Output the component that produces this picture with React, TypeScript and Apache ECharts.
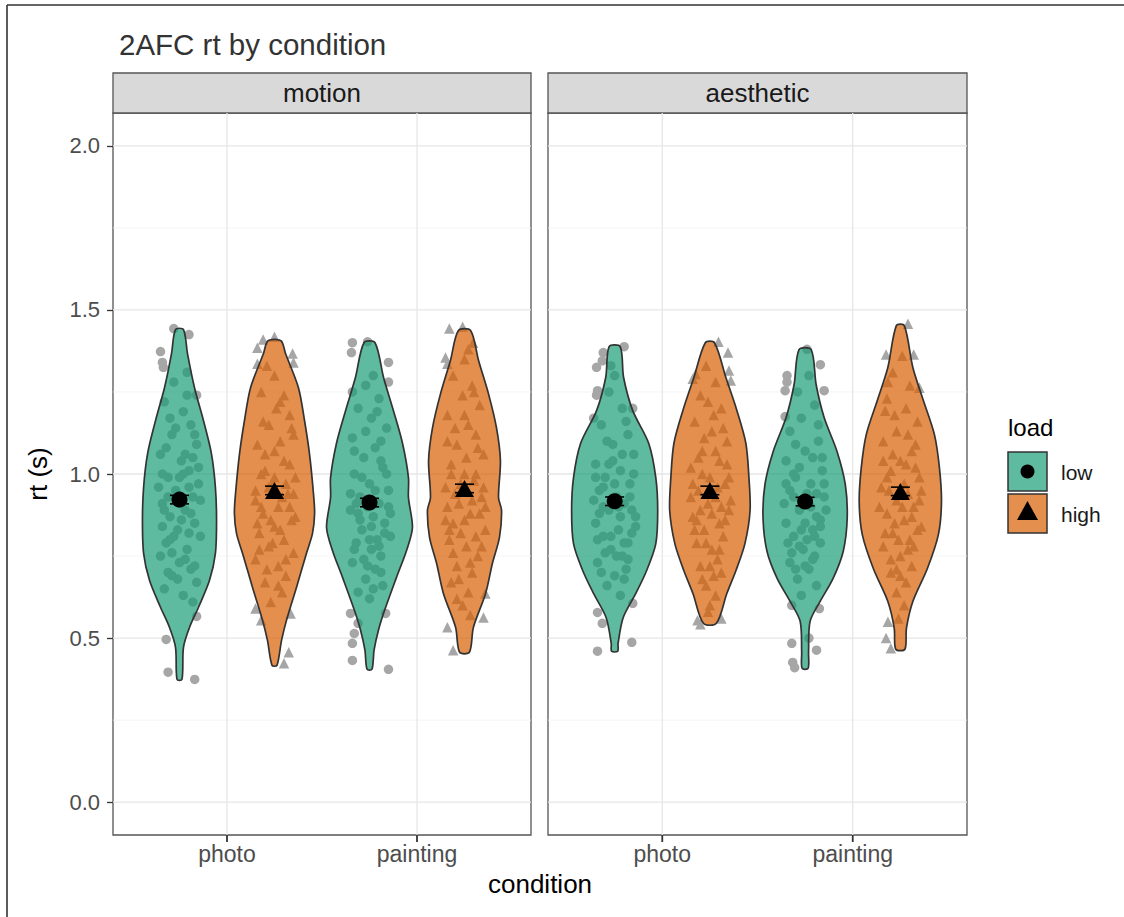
import React, { useEffect, useRef } from "react";
import * as echarts from "echarts";

const facets = ["motion", "aesthetic"];
const conditions = ["photo", "painting"];
const loads = ["low", "high"];
const yTicks = [0, 0.5, 1, 1.5, 2];
const yMinor = [0.25, 0.75, 1.25, 1.75];
const xTicks = [1, 2];

// violin outlines: [rt, half-width in x-axis units], top to bottom
const motionPhotoLowViolin = [
  [1.44, 0.021], [1.367, 0.042], [1.263, 0.079], [1.163, 0.126], [1.062, 0.168], [0.959, 0.189],
  [0.858, 0.195], [0.758, 0.189], [0.676, 0.158], [0.594, 0.1], [0.533, 0.053], [0.472, 0.021], [0.374, 0.013],
];
const motionPhotoHighViolin = [
  [1.406, 0.034], [1.367, 0.058], [1.263, 0.126], [1.163, 0.158], [1.062, 0.184], [0.941, 0.205],
  [0.88, 0.211], [0.819, 0.2], [0.758, 0.168], [0.655, 0.116], [0.554, 0.063], [0.493, 0.037], [0.417, 0.013],
];
const motionPaintingLowViolin = [
  [1.4, 0.029], [1.294, 0.074], [1.193, 0.126], [1.093, 0.174], [0.989, 0.205], [0.928, 0.205],
  [0.837, 0.226], [0.767, 0.195], [0.685, 0.142], [0.584, 0.079], [0.524, 0.047], [0.463, 0.024], [0.405, 0.013],
];
const motionPaintingHighViolin = [
  [1.437, 0.032], [1.346, 0.074], [1.245, 0.126], [1.142, 0.168], [1.041, 0.189], [0.928, 0.179],
  [0.889, 0.195], [0.807, 0.184], [0.728, 0.147], [0.636, 0.111], [0.533, 0.047], [0.457, 0.026],
];
const aestheticPhotoLowViolin = [
  [1.388, 0.029], [1.294, 0.047], [1.193, 0.095], [1.093, 0.179], [0.989, 0.216], [0.889, 0.226],
  [0.788, 0.216], [0.706, 0.168], [0.636, 0.111], [0.563, 0.045], [0.484, 0.018], [0.46, 0.016],
];
const aestheticPhotoHighViolin = [
  [1.4, 0.024], [1.294, 0.084], [1.193, 0.142], [1.093, 0.189], [0.989, 0.205], [0.889, 0.211],
  [0.788, 0.184], [0.706, 0.137], [0.636, 0.089], [0.545, 0.034],
];
const aestheticPaintingLowViolin = [
  [1.379, 0.032], [1.272, 0.058], [1.172, 0.1], [1.068, 0.168], [0.968, 0.211], [0.865, 0.221],
  [0.764, 0.2], [0.682, 0.147], [0.612, 0.079], [0.551, 0.026], [0.457, 0.018], [0.408, 0.016],
];
const aestheticPaintingHighViolin = [
  [1.452, 0.021], [1.324, 0.066], [1.224, 0.121], [1.12, 0.179], [1.02, 0.205], [0.916, 0.216],
  [0.816, 0.2], [0.712, 0.142], [0.612, 0.066], [0.53, 0.032], [0.466, 0.024],
];

// jittered raw trials: [x offset from violin centre, rt]
const motionPhotoLowPts = [
  [-0.03, 1.443], [0.05, 1.425], [-0.1, 1.373], [-0.09, 1.34], [-0.085, 1.325], [0.09, 1.24], [0.09, 0.566],
  [-0.07, 0.496], [-0.06, 0.396], [0.08, 0.374],
  [-0.08, 1.22], [0.02, 1.19], [0.06, 1.15], [-0.04, 1.12], [0.09, 1.09], [-0.1, 1.06], [0.01, 1.04],
  [0.05, 1.01], [-0.06, 0.99], [0.1, 0.97], [-0.02, 0.95], [0.07, 0.93], [-0.09, 0.91], [0.03, 0.89],
  [-0.05, 0.87], [0.08, 0.85], [-0.01, 0.83], [0.11, 0.81], [-0.07, 0.79], [0.04, 0.77], [-0.1, 0.75],
  [0.0, 0.73], [0.06, 0.71], [-0.04, 0.69], [0.09, 0.67], [-0.08, 0.65], [0.02, 0.63], [-0.03, 1.28],
  [0.04, 1.31], [-0.06, 0.93], [0.05, 0.96], [-0.03, 0.81], [0.08, 1.12], [-0.09, 0.84], [0.0, 0.99],
  [0.03, 0.74], [-0.05, 1.17], [0.07, 0.61],
  [0.1, 1.02], [-0.07, 1.08], [0.04, 1.24], [-0.02, 1.14], [0.06, 0.88], [-0.11, 0.96], [0.01, 0.86],
  [-0.04, 0.76], [0.08, 0.72], [-0.06, 0.7], [0.11, 0.92], [-0.09, 1.0], [0.03, 1.06], [-0.01, 0.68],
  [0.05, 0.82], [-0.08, 0.89], [0.02, 1.0], [-0.05, 0.8], [0.07, 1.05], [0.0, 0.91],
];
const motionPhotoHighPts = [
  [-0.06, 1.41], [0.0, 1.418], [-0.09, 1.385], [0.095, 1.367], [0.1, 1.34], [-0.09, 1.336], [-0.1, 0.59],
  [-0.07, 0.554], [0.085, 0.575], [0.075, 0.457], [0.05, 0.423],
  [-0.07, 1.25], [0.03, 1.22], [0.08, 1.18], [-0.03, 1.15], [0.1, 1.12], [-0.09, 1.09], [0.0, 1.07],
  [0.05, 1.04], [-0.05, 1.01], [0.11, 0.99], [-0.01, 0.97], [0.07, 0.94], [-0.1, 0.92], [0.02, 0.9],
  [-0.06, 0.88], [0.09, 0.86], [0.0, 0.84], [-0.08, 0.82], [0.05, 0.8], [-0.03, 0.78], [0.1, 0.76],
  [-0.1, 0.74], [0.02, 0.72], [0.06, 0.69], [-0.05, 0.67], [0.04, 0.64], [-0.02, 0.61], [0.0, 1.3],
  [-0.04, 1.33], [0.06, 0.97], [-0.07, 1.0], [0.08, 0.9], [-0.02, 0.86], [0.03, 1.1],
  [0.09, 1.14], [-0.06, 1.16], [0.01, 1.2], [-0.1, 0.95], [0.04, 0.93], [-0.03, 0.96], [0.11, 0.87],
  [-0.08, 0.77], [0.06, 0.74], [-0.04, 0.71], [0.08, 1.03], [-0.01, 0.79], [0.03, 0.83], [-0.07, 0.9],
  [0.1, 0.94], [-0.05, 1.06], [0.0, 0.99], [0.05, 1.24], [-0.09, 0.85], [0.02, 0.66],
];
const motionPaintingLowPts = [
  [-0.09, 1.4], [-0.095, 1.37], [-0.01, 1.403], [0.1, 1.34], [0.1, 1.28], [-0.09, 1.25], [-0.1, 0.575],
  [-0.06, 0.545], [-0.08, 0.514], [-0.09, 0.484], [-0.09, 0.432], [0.1, 0.405], [0.085, 0.575],
  [0.05, 1.23], [-0.06, 1.2], [0.01, 1.17], [0.09, 1.14], [-0.09, 1.11], [0.03, 1.08], [-0.03, 1.05],
  [0.07, 1.02], [-0.08, 1.0], [0.0, 0.97], [0.1, 0.95], [-0.05, 0.93], [0.05, 0.91], [-0.1, 0.89],
  [0.02, 0.87], [0.08, 0.85], [-0.04, 0.83], [0.11, 0.81], [-0.07, 0.79], [0.01, 0.77], [0.06, 0.75],
  [-0.09, 0.73], [0.03, 0.71], [-0.02, 0.68], [0.07, 0.66], [-0.06, 0.64], [0.0, 0.62], [0.02, 1.3],
  [-0.02, 1.27], [0.04, 0.8], [-0.01, 0.9], [0.09, 1.0], [-0.05, 0.86], [0.06, 0.7],
  [-0.08, 1.07], [0.06, 1.1], [-0.02, 1.13], [0.1, 0.9], [-0.1, 0.94], [0.03, 0.95], [-0.06, 0.88],
  [0.08, 0.82], [-0.03, 0.74], [0.05, 0.78], [-0.08, 0.77], [0.01, 0.84], [0.11, 0.88], [-0.04, 0.99],
  [0.06, 1.04], [-0.01, 0.72], [0.02, 0.65], [-0.07, 0.91], [0.04, 1.19], [0.0, 0.8],
];
const motionPaintingHighPts = [
  [-0.08, 1.443], [-0.01, 1.449], [0.045, 1.4], [-0.1, 1.355], [-0.09, 1.336], [0.11, 0.636], [-0.06, 0.463],
  [-0.09, 0.533], [0.1, 0.563],
  [-0.06, 1.3], [0.04, 1.27], [-0.01, 1.24], [0.08, 1.21], [-0.09, 1.18], [0.02, 1.15], [0.06, 1.12],
  [-0.04, 1.09], [0.1, 1.06], [-0.07, 1.03], [0.0, 1.0], [0.05, 0.98], [-0.1, 0.96], [0.09, 0.93],
  [-0.03, 0.91], [0.03, 0.88], [-0.06, 0.85], [0.11, 0.83], [-0.08, 0.8], [0.01, 0.78], [0.07, 0.75],
  [-0.04, 0.72], [0.04, 0.7], [-0.07, 0.67], [0.02, 0.64], [-0.01, 0.6], [0.03, 0.57], [0.0, 1.35],
  [0.02, 1.38], [-0.05, 0.94], [0.06, 1.0], [-0.02, 0.82], [0.08, 0.88], [-0.09, 1.1],
  [0.07, 1.08], [-0.05, 1.14], [0.0, 1.18], [0.1, 0.96], [-0.09, 0.9], [0.04, 0.92], [-0.02, 0.97],
  [0.09, 0.78], [-0.06, 0.76], [0.03, 0.73], [-0.04, 0.62], [0.06, 0.81], [-0.1, 0.86], [0.01, 1.05],
  [-0.07, 1.0], [0.05, 1.25], [-0.03, 0.68], [0.11, 0.9], [0.0, 0.86], [-0.08, 0.83],
];
const aestheticPhotoLowPts = [
  [-0.06, 1.37], [0.05, 1.388], [-0.065, 1.345], [-0.095, 1.325], [-0.09, 1.254], [-0.095, 1.24],
  [0.095, 1.2], [-0.11, 1.17], [0.095, 0.606], [-0.09, 0.578], [-0.065, 0.545], [0.09, 0.487], [-0.09, 0.46],
  [0.0, 1.3], [-0.03, 1.25], [0.04, 1.2], [-0.07, 1.15], [0.07, 1.12], [-0.01, 1.09], [0.1, 1.06],
  [-0.1, 1.03], [0.03, 1.01], [-0.05, 0.99], [0.08, 0.97], [-0.08, 0.95], [0.01, 0.93], [0.05, 0.91],
  [-0.03, 0.89], [0.11, 0.87], [-0.1, 0.85], [0.02, 0.83], [-0.06, 0.81], [0.07, 0.79], [-0.02, 0.77],
  [0.04, 0.75], [-0.09, 0.73], [0.06, 0.71], [0.0, 0.69], [-0.04, 0.66], [0.03, 0.63], [-0.02, 1.33],
  [0.02, 0.9], [-0.06, 0.96], [0.09, 0.82], [-0.01, 1.04], [0.05, 0.68], [-0.08, 0.88],
  [0.06, 1.16], [-0.04, 1.1], [0.1, 1.0], [-0.11, 0.92], [0.03, 0.87], [-0.06, 0.9], [0.08, 0.93],
  [-0.02, 0.81], [0.05, 0.79], [-0.09, 0.8], [0.01, 0.75], [0.11, 0.84], [-0.07, 0.7], [0.04, 1.06],
  [-0.03, 1.03], [0.07, 0.74], [0.0, 0.97], [-0.05, 0.76], [0.09, 0.89], [-0.1, 0.99],
];
const aestheticPhotoHighPts = [
  [0.045, 1.403], [0.095, 1.37], [0.1, 1.315], [-0.09, 1.29], [-0.075, 1.305], [0.11, 1.285],
  [-0.065, 0.554], [-0.05, 0.542], [0.06, 0.56],
  [-0.02, 1.33], [0.03, 1.28], [-0.05, 1.24], [0.06, 1.2], [-0.08, 1.16], [0.01, 1.13], [0.09, 1.1],
  [-0.04, 1.07], [0.05, 1.04], [-0.1, 1.02], [0.0, 0.99], [0.08, 0.97], [-0.06, 0.95], [0.03, 0.93],
  [-0.01, 0.91], [0.1, 0.89], [-0.09, 0.87], [0.05, 0.85], [-0.03, 0.83], [0.07, 0.81], [-0.07, 0.79],
  [0.01, 0.77], [0.04, 0.74], [-0.05, 0.72], [0.02, 0.69], [-0.02, 0.66], [0.03, 0.63], [0.0, 0.6],
  [-0.04, 1.0], [0.06, 0.9], [-0.07, 0.86], [0.02, 1.18], [-0.01, 0.58],
  [0.07, 1.14], [-0.03, 1.11], [0.1, 0.99], [-0.1, 0.93], [0.04, 0.96], [-0.05, 0.89], [0.08, 0.86],
  [-0.02, 0.79], [0.05, 0.77], [-0.08, 0.83], [0.0, 0.72], [0.11, 0.92], [-0.06, 1.05], [0.03, 1.07],
  [-0.04, 0.68], [0.06, 0.7], [0.01, 0.88], [-0.09, 0.97], [0.09, 1.03], [-0.01, 1.22],
];
const aestheticPaintingLowPts = [
  [0.01, 1.38], [0.08, 1.333], [-0.095, 1.3], [-0.095, 1.28], [-0.105, 1.254], [0.1, 1.254], [-0.105, 1.175],
  [-0.07, 0.6], [0.075, 0.59], [-0.07, 0.484], [0.06, 0.463], [-0.065, 0.426], [-0.055, 0.41], [0.02, 0.5],
  [0.02, 1.3], [-0.04, 1.25], [0.05, 1.21], [-0.02, 1.17], [-0.08, 1.13], [0.07, 1.1], [0.0, 1.07],
  [-0.1, 1.04], [0.09, 1.01], [-0.05, 0.99], [0.03, 0.97], [-0.08, 0.95], [0.1, 0.93], [0.0, 0.91],
  [-0.03, 0.89], [0.06, 0.87], [-0.1, 0.85], [0.04, 0.83], [-0.06, 0.81], [0.08, 0.79], [-0.01, 0.77],
  [0.05, 0.75], [-0.08, 0.73], [0.02, 0.71], [-0.04, 0.68], [0.06, 0.66], [-0.02, 0.63], [0.01, 0.94],
  [-0.06, 1.0], [0.08, 0.84], [-0.03, 0.78], [0.04, 1.05], [0.0, 0.72],
  [0.07, 1.15], [-0.05, 1.09], [0.1, 0.97], [-0.11, 0.91], [0.03, 0.9], [-0.06, 0.93], [0.08, 0.86],
  [-0.02, 0.83], [0.05, 0.81], [-0.09, 0.79], [0.01, 0.8], [0.11, 0.89], [-0.07, 0.76], [0.04, 0.74],
  [-0.03, 1.02], [0.06, 0.94], [0.0, 0.85], [-0.05, 0.71], [0.09, 1.05], [-0.1, 0.97],
];
const aestheticPaintingHighPts = [
  [0.04, 1.458], [-0.075, 1.364], [0.07, 1.364], [-0.065, 1.28], [0.1, 1.263], [-0.08, 1.193],
  [-0.065, 0.55], [-0.075, 0.5], [-0.05, 0.469],
  [0.01, 1.36], [-0.04, 1.31], [0.05, 1.27], [-0.07, 1.23], [0.03, 1.2], [0.09, 1.16], [-0.02, 1.13],
  [-0.09, 1.1], [0.06, 1.07], [0.0, 1.04], [-0.05, 1.01], [0.1, 0.99], [-0.1, 0.96], [0.04, 0.94],
  [-0.02, 0.92], [0.07, 0.9], [-0.07, 0.88], [0.02, 0.86], [0.11, 0.84], [-0.04, 0.82], [0.05, 0.8],
  [-0.09, 0.78], [0.0, 0.75], [0.06, 0.72], [-0.05, 0.7], [0.03, 0.67], [-0.02, 0.64], [0.02, 0.6],
  [-0.01, 0.56], [-0.06, 0.95], [0.08, 1.02], [-0.03, 0.85], [0.04, 1.12],
  [0.08, 1.09], [-0.04, 1.06], [0.1, 0.92], [-0.11, 0.9], [0.02, 0.97], [-0.07, 0.99], [0.06, 0.87],
  [-0.01, 0.8], [0.04, 0.77], [-0.08, 0.82], [0.0, 0.69], [0.11, 0.95], [-0.05, 0.74], [0.07, 0.78],
  [-0.03, 1.18], [0.03, 1.03], [0.01, 0.9], [-0.09, 1.04], [0.09, 0.83], [-0.02, 0.71],
];

// mean rt and SE; order: photo-low, photo-high, painting-low, painting-high
const motionMeans = [0.922, 0.95, 0.913, 0.956];
const aestheticMeans = [0.917, 0.95, 0.916, 0.947];
const motionSE = [0.013, 0.013, 0.013, 0.013];
const aestheticSE = [0.013, 0.013, 0.013, 0.013];

const FONT = "'Liberation Sans', Arial, Helvetica, sans-serif";
const FILLS = ["rgba(27,158,119,0.7)", "rgba(217,95,2,0.7)"];
const POINT_GREY = "#A6A6A6";
const DODGE = 0.25;
const Y_MIN = -0.1;
const GRIDS = [
  { left: 113, top: 113, width: 418, height: 722 },
  { left: 548, top: 113, width: 419, height: 722 },
];

const outlines = [
  [motionPhotoLowViolin, motionPhotoHighViolin, motionPaintingLowViolin, motionPaintingHighViolin],
  [aestheticPhotoLowViolin, aestheticPhotoHighViolin, aestheticPaintingLowViolin, aestheticPaintingHighViolin],
];
const points = [
  [motionPhotoLowPts, motionPhotoHighPts, motionPaintingLowPts, motionPaintingHighPts],
  [aestheticPhotoLowPts, aestheticPhotoHighPts, aestheticPaintingLowPts, aestheticPaintingHighPts],
];
const means = [motionMeans, aestheticMeans];
const ses = [motionSE, aestheticSE];

type Cell = { cond: number; load: number; x: number; outline: number[][]; pts: number[][]; mean: number; se: number };

function cellsFor(f: number): Cell[] {
  const out: Cell[] = [];
  conditions.forEach((_, c) => {
    loads.forEach((_, l) => {
      const k = c * 2 + l;
      out.push({
        cond: c,
        load: l,
        x: c + 1 + (l === 0 ? -DODGE : DODGE),
        outline: outlines[f][k],
        pts: points[f][k],
        mean: means[f][k],
        se: ses[f][k],
      });
    });
  });
  return out;
}

function buildOption() {
  const series: any[] = [];
  const grids: any[] = [];
  const xAxes: any[] = [];
  const yAxes: any[] = [];
  const graphics: any[] = [];

  facets.forEach((name, f) => {
    const g = GRIDS[f];
    grids.push({
      left: g.left, top: g.top, width: g.width, height: g.height,
      show: true, borderColor: "#555", borderWidth: 1.3, backgroundColor: "transparent", containLabel: false,
    });
    xAxes.push({
      type: "value", gridIndex: f, min: 0.4, max: 2.6, position: "bottom",
      axisLine: { show: false, onZero: false },
      splitLine: { show: false },
      axisTick: { show: false },
      axisLabel: {
        show: true, customValues: xTicks, color: "#4D4D4D", fontSize: 23, margin: 7, fontFamily: FONT,
        formatter: (v: number) => conditions[Math.round(v) - 1] ?? "",
      },
    });
    yAxes.push({
      type: "value", gridIndex: f, min: Y_MIN, max: 2.1, position: "left",
      axisLine: { show: false, onZero: false }, splitLine: { show: false },
      axisTick: { show: f === 0, customValues: yTicks, length: 6, lineStyle: { color: "#333", width: 1.3 } },
      axisLabel: {
        show: f === 0, customValues: yTicks, color: "#4D4D4D", fontSize: 22, margin: 13, fontFamily: FONT,
        formatter: (v: number) => v.toFixed(1),
      },
    });

    // grid lines (kind 0: horizontal, 1: vertical)
    const gridData: number[][] = [
      ...yTicks.map((v) => [0, v, 1]),
      ...yMinor.map((v) => [0, v, 0]),
      ...xTicks.map((v) => [1, v, 1]),
    ];
    series.push({
      type: "custom", xAxisIndex: f, yAxisIndex: f, z: 1, silent: true, clip: false,
      data: gridData,
      renderItem: (params: any, api: any) => {
        const kind = api.value(0);
        const v = api.value(1);
        const major = api.value(2);
        const cs = params.coordSys;
        const style = { stroke: major ? "#E6E6E6" : "#F1F1F1", lineWidth: major ? 1.3 : 0.8 };
        if (kind === 0) {
          const y = api.coord([1, v])[1];
          return { type: "line", shape: { x1: cs.x, y1: y, x2: cs.x + cs.width, y2: y }, style };
        }
        const x = api.coord([v, 1])[0];
        return { type: "line", shape: { x1: x, y1: cs.y, x2: x, y2: cs.y + cs.height }, style };
      },
    });

    const cells = cellsFor(f);

    // jittered points
    loads.forEach((_, l) => {
      series.push({
        type: "scatter", xAxisIndex: f, yAxisIndex: f, z: 2, silent: true,
        symbol: l === 0 ? "circle" : "triangle",
        symbolSize: l === 0 ? 9.5 : 10.5,
        itemStyle: { color: POINT_GREY, opacity: 1 },
        data: cells.filter((c) => c.load === l).flatMap((c) => c.pts.map(([dx, y]) => [c.x + dx, y])),
      });
    });

    // violins
    series.push({
      type: "custom", xAxisIndex: f, yAxisIndex: f, z: 3, silent: true,
      data: cells.map((c) => [c.x, c.mean]),
      renderItem: (params: any, api: any) => {
        const c = cells[params.dataIndex];
        const right = c.outline.map(([y, w]) => api.coord([c.x + w, y]));
        const left = c.outline.slice().reverse().map(([y, w]) => api.coord([c.x - w, y]));
        return {
          type: "polygon",
          shape: { points: right.concat(left), smooth: 0.3 },
          style: { fill: FILLS[c.load], stroke: "#333", lineWidth: 1.7 },
        };
      },
    });

    // error bars
    series.push({
      type: "custom", xAxisIndex: f, yAxisIndex: f, z: 4, silent: true,
      data: cells.map((c) => [c.x, c.mean]),
      renderItem: (params: any, api: any) => {
        const c = cells[params.dataIndex];
        const top = api.coord([c.x, c.mean + c.se]);
        const bot = api.coord([c.x, c.mean - c.se]);
        const capL = api.coord([c.x - 0.05, c.mean])[0];
        const capR = api.coord([c.x + 0.05, c.mean])[0];
        const st = { stroke: "#000", lineWidth: 1.6 };
        return {
          type: "group",
          children: [
            { type: "line", shape: { x1: top[0], y1: top[1], x2: bot[0], y2: bot[1] }, style: st },
            { type: "line", shape: { x1: capL, y1: top[1], x2: capR, y2: top[1] }, style: st },
            { type: "line", shape: { x1: capL, y1: bot[1], x2: capR, y2: bot[1] }, style: st },
          ],
        };
      },
    });

    // means
    series.push({
      type: "scatter", xAxisIndex: f, yAxisIndex: f, z: 5, silent: true,
      itemStyle: { color: "#000", opacity: 1 },
      data: cells.map((c) => ({
        value: [c.x, c.mean],
        symbol: c.load === 0 ? "circle" : "triangle",
        symbolSize: c.load === 0 ? 16 : [19, 17],
      })),
    });

    // strip
    graphics.push({
      type: "rect", shape: { x: g.left, y: 73, width: g.width, height: 40 },
      style: { fill: "#D9D9D9", stroke: "#555", lineWidth: 1.3 }, silent: true,
    });
    graphics.push({
      type: "text", x: g.left + g.width / 2, y: 93,
      style: { text: name, fill: "#1A1A1A", fontSize: 26, fontFamily: FONT, align: "center", verticalAlign: "middle" },
      silent: true,
    });
  });

  // title, axis titles, frame
  graphics.push(
    {
      type: "text", x: 119, y: 44,
      style: { text: "2AFC rt by condition", fill: "#333", fontSize: 29.5, fontFamily: FONT, align: "left", verticalAlign: "middle" },
    },
    {
      type: "text", x: 540, y: 884,
      style: { text: "condition", fill: "#000", fontSize: 26, fontFamily: FONT, align: "center", verticalAlign: "middle" },
    },
    {
      type: "text", x: 38, y: 474, rotation: Math.PI / 2,
      style: { text: "rt (s)", fill: "#000", fontSize: 26, fontFamily: FONT, align: "center", verticalAlign: "middle" },
    },
    { type: "line", shape: { x1: 7, y1: 5, x2: 1124, y2: 5 }, style: { stroke: "#333", lineWidth: 1.6 } },
    { type: "line", shape: { x1: 7, y1: 5, x2: 7, y2: 917 }, style: { stroke: "#333", lineWidth: 1.6 } }
  );

  // legend
  graphics.push({
    type: "text", x: 1008, y: 427,
    style: { text: "load", fill: "#000", fontSize: 24, fontFamily: FONT, align: "left", verticalAlign: "middle" },
  });
  loads.forEach((lab, l) => {
    const y0 = 452 + l * 42;
    graphics.push({
      type: "rect", shape: { x: 1008, y: y0, width: 39, height: 39 },
      style: { fill: FILLS[l], stroke: "#333", lineWidth: 1.5 },
    });
    if (l === 0) {
      graphics.push({ type: "circle", shape: { cx: 1027.5, cy: y0 + 19.5, r: 7 }, style: { fill: "#000" } });
    } else {
      graphics.push({
        type: "polygon",
        shape: { points: [[1017, y0 + 26], [1038, y0 + 26], [1027.5, y0 + 7]] },
        style: { fill: "#000" },
      });
    }
    graphics.push({
      type: "text", x: 1061, y: y0 + 20,
      style: { text: lab, fill: "#1A1A1A", fontSize: 21, fontFamily: FONT, align: "left", verticalAlign: "middle" },
    });
  });

  return {
    option: {
      animation: false,
      backgroundColor: "#fff",
      textStyle: { fontFamily: FONT },
      grid: grids,
      xAxis: xAxes,
      yAxis: yAxes,
      series,
      graphic: { elements: graphics },
    },
    graphics,
  };
}

export default function App() {
  const ref = useRef<HTMLDivElement>(null);
  useEffect(() => {
    if (!ref.current) return;
    const chart = echarts.init(ref.current, undefined, { renderer: "svg" });
    const { option, graphics } = buildOption();
    chart.setOption(option as any);
    // x-axis tick marks, placed through the axes' own scales
    const ticks: any[] = [];
    facets.forEach((_, f) => {
      xTicks.forEach((v) => {
        const p = chart.convertToPixel({ gridIndex: f }, [v, Y_MIN]) as number[];
        if (p && isFinite(p[0])) {
          ticks.push({
            type: "rect", z: 100,
            shape: { x: p[0] - 0.9, y: p[1], width: 1.8, height: 7 },
            style: { fill: "#333" },
          });
        }
      });
    });
    chart.setOption({ graphic: { elements: [...graphics, ...ticks] } } as any);
    return () => chart.dispose();
  }, []);
  return (
    <div
      ref={ref}
      style={{ position: "absolute", left: 0, top: 0, width: 1124, height: 917, background: "#fff" }}
    />
  );
}
